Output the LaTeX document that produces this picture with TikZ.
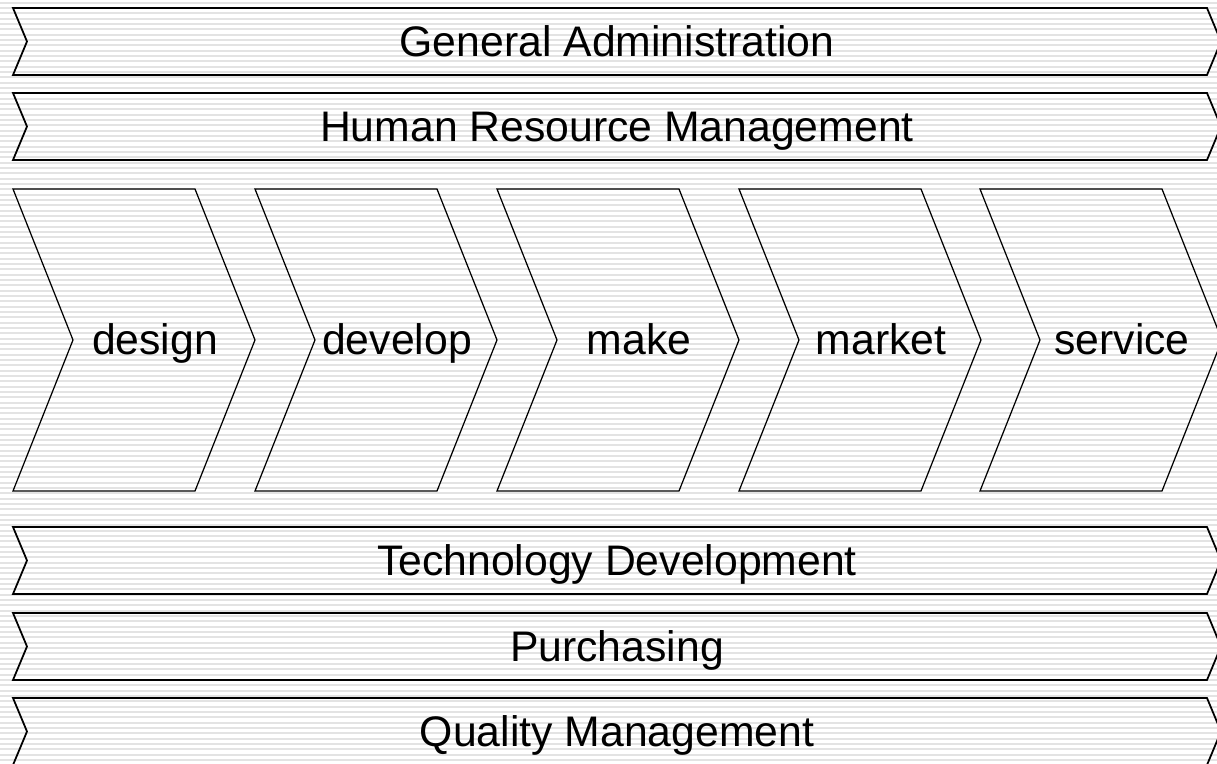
\documentclass[tikz,border=0pt]{standalone}
\usepackage{fontspec}
\setmainfont{Liberation Sans}
\begin{document}
\begin{tikzpicture}[
    x=0.01cm, y=-0.01cm,
    stripe/.style={gray!22, line width=0.55pt},
    band/.style={draw, line width=0.5pt},
    chev/.style={draw, line width=0.35pt},
    lbl/.style={anchor=base, inner sep=0pt, font=\fontsize{12.15}{14}\selectfont}
]
    \useasboundingbox (0,0) rectangle (1217,764);
    \clip (0,0) rectangle (1217,764);

    % Background stripes
    \foreach \i in {0,...,143}
        \draw[stripe] (0,{2.7+5.333*\i}) -- (1217,{2.7+5.333*\i});

    % Support activities
    \foreach \y/\name/\txt in {8/admin/General Administration, 93/hrm/Human Resource Management,
        527/tech/Technology Development, 613/purch/Purchasing, 698/quality/Quality Management} {
        \draw[band] (13,\y) -- (1207,\y) -- (1221,\y+33.5) -- (1207,\y+67) -- (13,\y+67) -- (27,\y+33.5) -- cycle;
        \node[lbl] (\name) at (617,\y+49) {\txt};
    }

    % Primary activities
    \foreach \x/\name/\txt in {13/design/design, 255/develop/develop, 497/make/make,
        739/market/market, 980/service/service} {
        \draw[chev] (\x,189) -- (\x+182,189) -- (\x+242,340) -- (\x+182,491) -- (\x,491) -- (\x+60,340) -- cycle;
        \node[lbl] (\name) at (\x+142,355) {\txt};
    }
\end{tikzpicture}
\end{document}
